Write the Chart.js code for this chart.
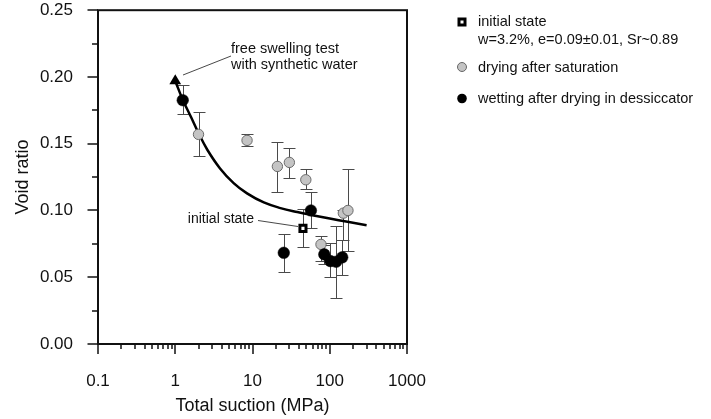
<!DOCTYPE html>
<html><head><meta charset="utf-8">
<script src="https://cdn.jsdelivr.net/npm/chart.js@4/dist/chart.umd.min.js"></script>
<style>html,body{margin:0;padding:0;background:#fff;overflow:hidden}</style>
</head><body>
<canvas id="c" width="711" height="419"></canvas>
<script>
const FONT = '"Liberation Sans", Arial, Helvetica, sans-serif';
const TXT = '#111';

// ---- data ----
const fitSuction = [1, 1.25, 1.6, 2, 2.6, 3.8, 5.7, 8.5, 14, 23, 38, 62, 100, 170, 300];
const fitVoid    = [0.197, 0.183, 0.170, 0.158, 0.1455, 0.1315, 0.1205, 0.1128, 0.106, 0.1018, 0.0988, 0.0963, 0.094, 0.0915, 0.089];

const dryingSuction = [2, 8.5, 21, 30, 49, 77, 150, 172];
const dryingVoid    = [0.157, 0.1525, 0.133, 0.136, 0.123, 0.0746, 0.098, 0.100];
const dryingLow     = [0.141, 0.148, 0.114, 0.1245, 0.116, 0.062, 0.078, 0.0698];
const dryingHigh    = [0.174, 0.157, 0.151, 0.147, 0.131, 0.081, 0.100, 0.131];

const wettingSuction = [1.25, 25.4, 57, 85, 102, 121, 145];
const wettingVoid    = [0.1826, 0.0683, 0.100, 0.0671, 0.0621, 0.0616, 0.0649];
const wettingLow     = [0.172, 0.054, 0.0866, 0.060, 0.0504, 0.0342, 0.0516];
const wettingHigh    = [0.194, 0.0826, 0.1135, 0.074, 0.0754, 0.0885, 0.078];

const initialSuction = [45];
const initialVoid    = [0.0866];
const initialLow     = [0.0724];
const initialHigh    = [0.101];

const freeSwellSuction = [1];
const freeSwellVoid    = [0.197];

const xTickValues = [0.1, 1, 10, 100, 1000];
const xTickLabels = ['0.1', '1', '10', '100', '1000'];
const yTickValues = [0, 0.05, 0.10, 0.15, 0.20, 0.25];
const yTickLabels = ['0.00', '0.05', '0.10', '0.15', '0.20', '0.25'];

const xTitle = 'Total suction (MPa)';
const yTitle = 'Void ratio';
const legendInitial = ['initial state', 'w=3.2%, e=0.09\u00b10.01, Sr~0.89'];
const legendDrying = 'drying after saturation';
const legendWetting = 'wetting after drying in dessiccator';
const noteFreeSwell = ['free swelling test', 'with synthetic water'];
const noteInitial = 'initial state';

const pts = (xs, ys) => xs.map((v, i) => ({x: v, y: ys[i]}));

// ---- plugins ----
const errorBars = {
  id: 'errorBars',
  beforeDatasetsDraw(chart) {
    const {ctx, scales: {x, y}} = chart;
    ctx.save();
    ctx.strokeStyle = '#4a4a4a';
    ctx.lineWidth = 1;
    chart.data.datasets.forEach(ds => {
      if (!ds.errLow) return;
      ds.data.forEach((p, i) => {
        const px = Math.round(x.getPixelForValue(p.x)) + 0.5;
        const y1 = Math.round(y.getPixelForValue(ds.errLow[i])) + 0.5;
        const y2 = Math.round(y.getPixelForValue(ds.errHigh[i])) + 0.5;
        const w = 6;
        ctx.beginPath();
        ctx.moveTo(px, y1); ctx.lineTo(px, y2);
        ctx.moveTo(px - w, y1); ctx.lineTo(px + w, y1);
        ctx.moveTo(px - w, y2); ctx.lineTo(px + w, y2);
        ctx.stroke();
      });
    });
    ctx.restore();
  }
};

const frameTicks = {
  id: 'frameTicks',
  afterDatasetsDraw(chart) {
    const {ctx, chartArea: a, scales: {x, y}} = chart;
    ctx.save();
    ctx.strokeStyle = '#111';
    ctx.lineWidth = 2;
    ctx.strokeRect(a.left, a.top, a.right - a.left, a.bottom - a.top);
    ctx.lineWidth = 1.5;
    ctx.beginPath();
    for (let e = -1; e <= 3; e++) {
      const base = Math.pow(10, e);
      for (let k = 1; k <= 9; k++) {
        const v = base * k;
        if (v > 1000 * 1.0001) break;
        const px = Math.round(x.getPixelForValue(v));
        const len = k === 1 ? 10 : 5;
        ctx.moveTo(px, a.bottom); ctx.lineTo(px, a.bottom + len);
      }
    }
    for (let i = 0; i <= 10; i++) {
      const v = i * 0.025;
      const py = Math.round(y.getPixelForValue(v));
      const len = i % 2 === 0 ? 10.5 : 6;
      ctx.moveTo(a.left, py); ctx.lineTo(a.left - len, py);
    }
    ctx.stroke();
    ctx.restore();
  },
  afterDraw(chart) {
    const {ctx} = chart;
    ctx.save();
    ctx.fillStyle = TXT;
    ctx.font = '14.5px ' + FONT;
    ctx.textBaseline = 'alphabetic';
    ctx.textAlign = 'left';
    ctx.fillText(noteFreeSwell[0], 231, 52.5);
    ctx.fillText(noteFreeSwell[1], 231, 69);
    ctx.font = '14px ' + FONT;
    ctx.textAlign = 'right';
    ctx.fillText(noteInitial, 254, 222.5);
    ctx.strokeStyle = '#333';
    ctx.lineWidth = 0.9;
    ctx.beginPath();
    ctx.moveTo(183, 75); ctx.lineTo(231, 56);
    ctx.moveTo(258, 220.5); ctx.lineTo(298, 226.5);
    ctx.stroke();

    ctx.textAlign = 'left';
    ctx.font = '14.5px ' + FONT;
    ctx.fillText(legendInitial[0], 478, 26);
    ctx.fillText(legendInitial[1], 478, 43.5);
    ctx.fillText(legendDrying, 478, 72);
    ctx.fillText(legendWetting, 478, 103);
    ctx.fillStyle = '#000';
    ctx.fillRect(457.5, 17.5, 9, 9);
    ctx.fillStyle = '#fff';
    ctx.fillRect(460.5, 20.5, 3, 3);
    ctx.beginPath();
    ctx.arc(462, 67, 4.5, 0, Math.PI * 2);
    ctx.fillStyle = '#c4c4c4'; ctx.fill();
    ctx.strokeStyle = '#666'; ctx.lineWidth = 1; ctx.stroke();
    ctx.beginPath();
    ctx.arc(462, 98.5, 4.8, 0, Math.PI * 2);
    ctx.fillStyle = '#000'; ctx.fill();
    ctx.restore();
  }
};

new Chart(document.getElementById('c'), {
  type: 'scatter',
  data: {
    datasets: [
      {
        label: 'free swelling test',
        data: pts(freeSwellSuction, freeSwellVoid),
        pointStyle: 'triangle', pointRadius: 6.8, rotation: 0,
        backgroundColor: '#000', borderColor: '#000', borderWidth: 0
      },
      {
        label: 'initial state',
        data: pts(initialSuction, initialVoid),
        errLow: initialLow, errHigh: initialHigh,
        pointStyle: 'rect', pointRadius: 4.3,
        backgroundColor: '#fff', borderColor: '#000', borderWidth: 3
      },
      {
        label: legendWetting,
        data: pts(wettingSuction, wettingVoid),
        errLow: wettingLow, errHigh: wettingHigh,
        pointStyle: 'circle', pointRadius: 5.8,
        backgroundColor: '#000', borderColor: '#000', borderWidth: 0.5
      },
      {
        label: legendDrying,
        data: pts(dryingSuction, dryingVoid),
        errLow: dryingLow, errHigh: dryingHigh,
        pointStyle: 'circle', pointRadius: 5.2,
        backgroundColor: '#c4c4c4', borderColor: '#6a6a6a', borderWidth: 1
      },
      {
        type: 'line',
        label: 'fit',
        data: pts(fitSuction, fitVoid),
        borderColor: '#000', borderWidth: 2.5,
        pointRadius: 0, fill: false,
        tension: 0.4
      }
    ]
  },
  options: {
    responsive: false,
    animation: false,
    devicePixelRatio: 1,
    layout: {padding: {left: 0, right: 304, top: 10, bottom: 0}},
    plugins: {legend: {display: false}, tooltip: {enabled: false}},
    scales: {
      x: {
        type: 'logarithmic', position: 'bottom', min: 0.1, max: 1000,
        afterBuildTicks: s => { s.ticks = xTickValues.map(v => ({value: v})); },
        afterFit: s => { s.height = 75; },
        grid: {display: false, drawTicks: true, tickLength: 27},
        border: {display: false},
        ticks: {
          font: {family: FONT, size: 17}, color: TXT, padding: 0,
          maxRotation: 0, minRotation: 0, autoSkip: false,
          callback: (v, i) => xTickLabels[i]
        },
        title: {display: true, text: xTitle, font: {family: FONT, size: 18}, color: TXT, padding: {top: 0, bottom: 2}}
      },
      y: {
        type: 'linear', position: 'left', min: 0, max: 0.25,
        afterBuildTicks: s => { s.ticks = yTickValues.map(v => ({value: v})); },
        afterFit: s => { s.width = 98; },
        grid: {display: false, drawTicks: true, tickLength: 25},
        border: {display: false},
        ticks: {
          font: {family: FONT, size: 17}, color: TXT, padding: 0,
          callback: (v, i) => yTickLabels[i]
        },
        title: {display: true, text: yTitle, font: {family: FONT, size: 18}, color: TXT, padding: {top: 12, bottom: 0}}
      }
    }
  },
  plugins: [errorBars, frameTicks]
});
</script>
</body></html>
